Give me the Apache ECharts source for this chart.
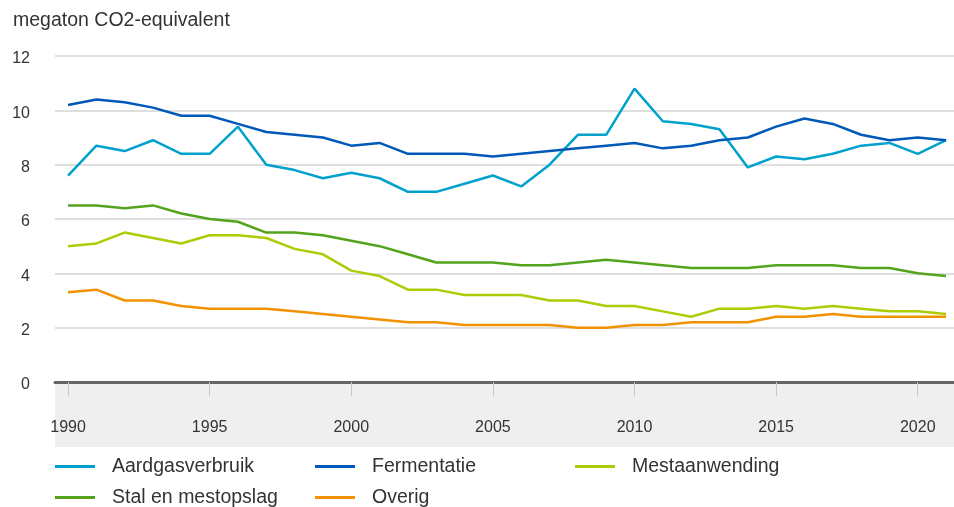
<!DOCTYPE html>
<html>
<head>
<meta charset="utf-8">
<script src="https://cdn.jsdelivr.net/npm/echarts@6/dist/echarts.min.js"></script>
<style>
  html, body { margin: 0; padding: 0; background: #fff; }
  #chart { width: 954px; height: 507px; }
</style>
</head>
<body>
<div id="chart"></div>
<script>
// Greenhouse gas emissions from agriculture by source, megaton CO2-equivalent
const years = [];
for (let y = 1990; y <= 2021; y++) years.push(y);

const aardgasverbruik = [7.6, 8.7, 8.5, 8.9, 8.4, 8.4, 9.4, 8.0, 7.8, 7.5, 7.7, 7.5, 7.0, 7.0, 7.3, 7.6,
  7.2, 8.0, 9.1, 9.1, 10.8, 9.6, 9.5, 9.3, 7.9, 8.3, 8.2, 8.4, 8.7, 8.8, 8.4, 8.9];
const fermentatie = [10.2, 10.4, 10.3, 10.1, 9.8, 9.8, 9.5, 9.2, 9.1, 9.0, 8.7, 8.8, 8.4, 8.4, 8.4, 8.3,
  8.4, 8.5, 8.6, 8.7, 8.8, 8.6, 8.7, 8.9, 9.0, 9.4, 9.7, 9.5, 9.1, 8.9, 9.0, 8.9];
const mestaanwending = [5.0, 5.1, 5.5, 5.3, 5.1, 5.4, 5.4, 5.3, 4.9, 4.7, 4.1, 3.9, 3.4, 3.4, 3.2, 3.2,
  3.2, 3.0, 3.0, 2.8, 2.8, 2.6, 2.4, 2.7, 2.7, 2.8, 2.7, 2.8, 2.7, 2.6, 2.6, 2.5];
const stalEnMestopslag = [6.5, 6.5, 6.4, 6.5, 6.2, 6.0, 5.9, 5.5, 5.5, 5.4, 5.2, 5.0, 4.7, 4.4, 4.4, 4.4,
  4.3, 4.3, 4.4, 4.5, 4.4, 4.3, 4.2, 4.2, 4.2, 4.3, 4.3, 4.3, 4.2, 4.2, 4.0, 3.9];
const overig = [3.3, 3.4, 3.0, 3.0, 2.8, 2.7, 2.7, 2.7, 2.6, 2.5, 2.4, 2.3, 2.2, 2.2, 2.1, 2.1,
  2.1, 2.1, 2.0, 2.0, 2.1, 2.1, 2.2, 2.2, 2.2, 2.4, 2.4, 2.5, 2.4, 2.4, 2.4, 2.4];

const yearTicks = [1990, 1995, 2000, 2005, 2010, 2015, 2020];
const seriesNames = ['Aardgasverbruik', 'Fermentatie', 'Mestaanwending', 'Stal en mestopslag', 'Overig'];
const seriesValues = [aardgasverbruik, fermentatie, mestaanwending, stalEnMestopslag, overig];
const colors = ['#00a1cd', '#0058b8', '#afcb05', '#53a31d', '#f39200'];

const FONT = '"Liberation Sans", Arial, sans-serif';
const chart = echarts.init(document.getElementById('chart'), null, { renderer: 'canvas' });

chart.setOption({
  animation: false,
  color: colors,
  textStyle: { fontFamily: FONT },
  title: {
    text: 'megaton CO2-equivalent',
    left: 8, top: 6,
    textStyle: { fontFamily: FONT, fontSize: 19.5, fontWeight: 'normal', color: '#333' }
  },
  graphic: [{
    // shaded band behind the year labels
    type: 'rect', left: 55, top: 383, z: -1,
    shape: { width: 899, height: 64 },
    style: { fill: '#efefef' }
  }],
  grid: { left: 55, right: 0, top: 56, bottom: 125, containLabel: false },
  xAxis: {
    type: 'value',
    min: 1989.54, max: 2021.28,
    splitLine: { show: false },
    axisLine: { show: true, lineStyle: { color: '#666', width: 3 } },
    axisTick: { show: true, customValues: yearTicks, length: 14, lineStyle: { color: '#c8c8c8', width: 1 } },
    axisLabel: {
      customValues: yearTicks, margin: 38,
      fontFamily: FONT, fontSize: 16, color: '#333',
      formatter: v => String(v)
    }
  },
  yAxis: {
    type: 'value', min: 0, max: 12, interval: 2,
    axisLine: { show: false },
    axisTick: { show: false },
    splitLine: { lineStyle: { color: '#d4d4d4', width: 1.5 } },
    axisLabel: {
      margin: 25, color: '#333',
      formatter: '{v|{value}}',
      rich: { v: { fontFamily: FONT, fontSize: 16, color: '#333', padding: [6, 0, 0, 0] } }
    }
  },
  legend: {
    left: 50, top: 451, width: 820,
    icon: 'rect', itemWidth: 40, itemHeight: 3, itemGap: 10,
    textStyle: { fontFamily: FONT, fontSize: 19.5, color: '#333', width: 193, lineHeight: 21, padding: [0, 0, 0, 12] },
    data: seriesNames
  },
  series: seriesNames.map((name, i) => ({
    name: name,
    type: 'line',
    data: years.map((y, j) => [y, seriesValues[i][j]]),
    symbol: 'none',
    lineStyle: { width: 2.5 },
    z: 2 + i
  }))
});
</script>
</body>
</html>
